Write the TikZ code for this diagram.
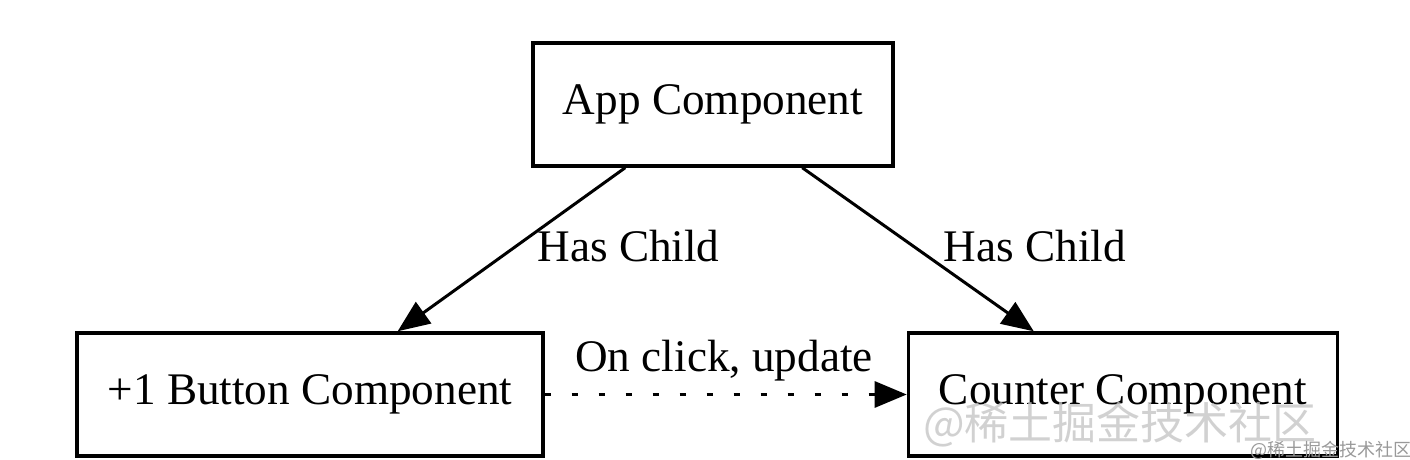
\documentclass[tikz,border=0pt]{standalone}
\usepackage{fontspec}
\setmainfont{Liberation Serif}
\newfontfamily\cjkfont{Noto Sans CJK SC}
\usetikzlibrary{arrows.meta, positioning}

\begin{document}
\begin{tikzpicture}[
    box/.style={rectangle, draw, line width=1.7pt, minimum height=61.5pt, inner sep=0pt, font=\fontsize{22.6}{27}\selectfont},
    arrow/.style={-{Triangle[length=16pt, width=13pt]}, line width=1.5pt},
    lbl/.style={anchor=base, font=\fontsize{22.6}{27}\selectfont},
    dotline/.style={dash pattern=on 3pt off 10.5pt}
]
\useasboundingbox (0,0) rectangle (705pt,230pt);

% BOITES
\node[box, minimum width=180pt] (app) at (356.5pt,177.75pt) {App Component};
\node[box, minimum width=233pt] (button) at (155pt,32.75pt) {+1 Button Component};
\node[box, minimum width=214.5pt, right=181pt of button] (counter) {Counter Component};

% FLECHES
\draw[arrow] (app) -- (button);
\draw[arrow] (app) -- (counter);
\draw[arrow, dotline] (button) -- (counter);

% ETIQUETTES
\node[lbl] (child_left) at (314.25pt,99pt) {Has Child};
\node[lbl] (child_right) at (517.5pt,99pt) {Has Child};
\node[lbl] (click) at (362pt,44pt) {On click, update};

% Filigrane
\node[font=\cjkfont\fontsize{22}{26}\selectfont, text=gray!45, opacity=0.8] (mark) at (560pt,17.5pt) {@稀土掘金技术社区};
\node[font=\cjkfont\fontsize{9}{11}\selectfont, text=gray!80, anchor=east, inner sep=0pt] (mark_small) at (706pt,5pt) {@稀土掘金技术社区};

\end{tikzpicture}
\end{document}
